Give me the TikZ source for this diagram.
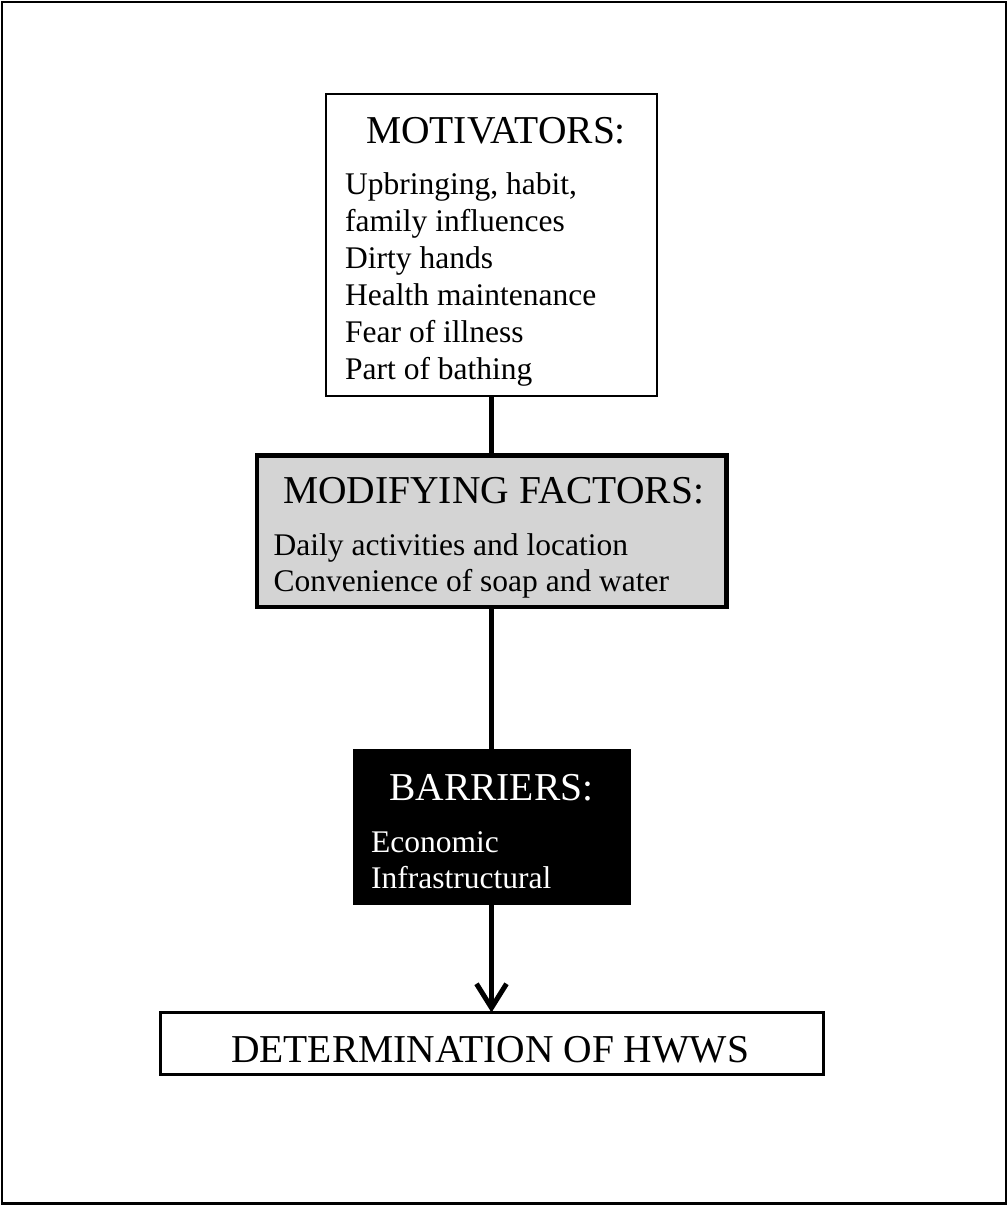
\documentclass[tikz,border=0pt]{standalone}
\usepackage{fontspec}
\setmainfont{Liberation Serif}
\usetikzlibrary{arrows.meta}
\definecolor{modgray}{HTML}{D4D4D4}
\begin{document}
\begin{tikzpicture}[x=1pt,y=-1pt,
  box/.style={draw=black, inner sep=0pt, outer sep=0pt},
  head/.style={inner sep=0pt, anchor=base west, font=\fontsize{39.5}{47}\selectfont},
  item/.style={inner sep=0pt, anchor=base west, font=\fontsize{31.5}{37}\selectfont},
  conn/.style={line width=5pt}]
\useasboundingbox (0,0) rectangle (1008,1205);
\draw[line width=2.5pt] (2,2) rectangle (1006,1203.5);

\node[box, line width=2pt, minimum width=331pt, minimum height=302pt] (mot) at (491.5,245) {};
\node[box, line width=4.5pt, fill=modgray, minimum width=469.5pt, minimum height=151.5pt] (mod) at (491.5,531) {};
\node[box, fill=black, minimum width=277pt, minimum height=155pt] (bar) at (491.5,826.5) {};
\node[box, line width=3pt, minimum width=663pt, minimum height=62pt] (det) at (491.5,1043.5) {};

\draw[conn] (mot.south) -- (mod.north);
\draw[conn] (mod.south) -- (bar.north);
\draw[conn, -{Straight Barb[length=24pt,width=30pt]}] (bar.south) -- (det.north);

\node[head] (motH) at (366,143) {MOTIVATORS:};
\node[item] (m1) at (345,194) {Upbringing, habit,};
\node[item] (m2) at (345,231) {family influences};
\node[item] (m3) at (345,268.5) {Dirty hands};
\node[item] (m4) at (345,305.5) {Health maintenance};
\node[item] (m5) at (345,342.5) {Fear of illness};
\node[item] (m6) at (345,379.5) {Part of bathing};

\node[head] (modH) at (283,503) {MODIFYING FACTORS:};
\node[item] (d1) at (273.5,555) {Daily activities and location};
\node[item] (d2) at (273.5,591) {Convenience of soap and water};

\node[head, text=white] (barH) at (389,800) {BARRIERS:};
\node[item, text=white] (b1) at (371,852) {Economic};
\node[item, text=white] (b2) at (371,888) {Infrastructural};

\node[head] (detH) at (231,1062) {DETERMINATION OF HWWS};
\end{tikzpicture}
\end{document}
